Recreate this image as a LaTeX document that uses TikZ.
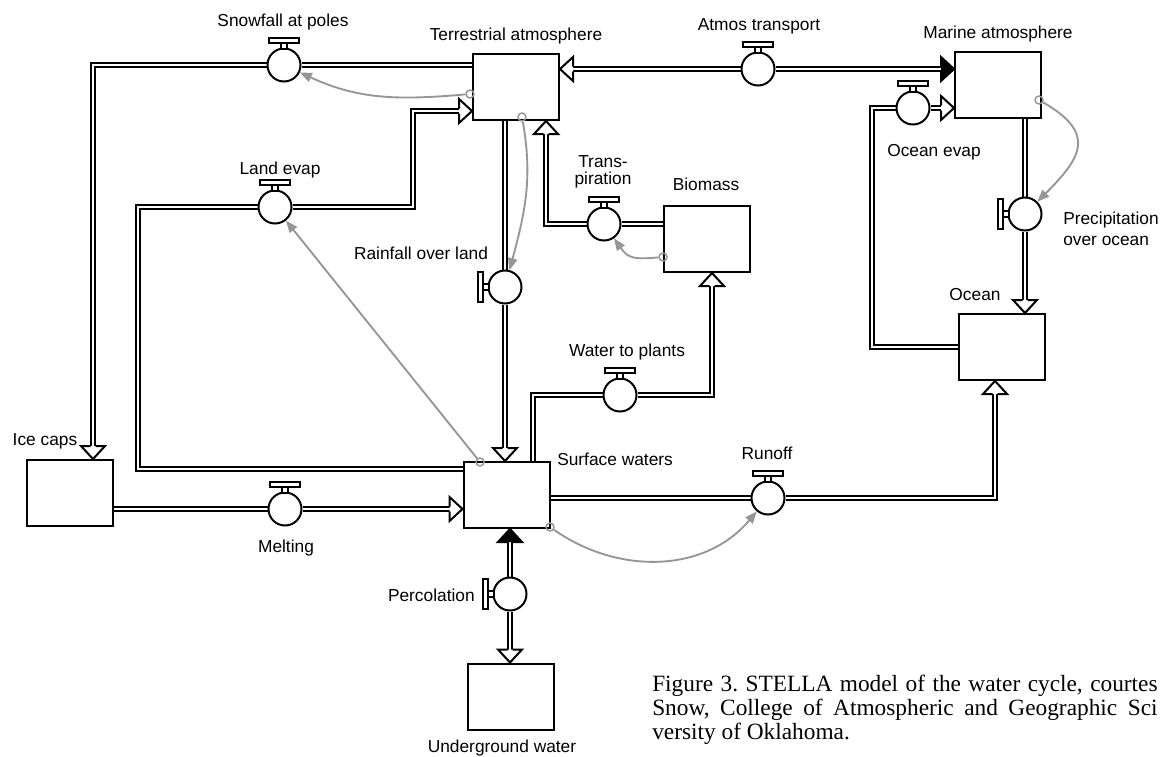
\documentclass[tikz,border=0pt]{standalone}
\usepackage{fontspec}
\setmainfont{Liberation Sans}
\newfontfamily\capfont{Liberation Serif}
\usetikzlibrary{calc,arrows.meta}
\pgfdeclarelayer{bg}
\pgfsetlayers{bg,main}
\definecolor{conn}{RGB}{150,150,150}
\frenchspacing
\tikzset{
  stockbox/.style={draw, line width=1.5pt, fill=white, minimum width=64.5pt, minimum height=49.5pt, inner sep=0pt},
  valvec/.style={draw, circle, line width=1.5pt, fill=white, minimum size=24.75pt, inner sep=0pt},
  pipeline/.style={line width=1.5pt, double=white, double distance=1.5pt, line join=miter},
  lbl/.style={font=\fontsize{13}{15.6}\selectfont, inner sep=0pt, anchor=base},
  caplbl/.style={font=\capfont\fontsize{17.5}{18}\selectfont, inner sep=0pt, anchor=base west},
  srcring/.style={draw=conn, circle, line width=1.1pt, minimum size=6pt, inner sep=0pt},
  infolink/.style={draw=conn, line width=1.4pt, -{Triangle[length=9pt,width=7pt]}},
  hollowhead/.pic={\filldraw[fill=white, line width=1.5pt, line join=miter] (-13,-2.5) -- (-13,-12) -- (0,0) -- (-13,12) -- (-13,2.5);},
  solidhead/.pic={\filldraw[fill=black, line width=1.5pt, line join=miter] (-13,-2.5) -- (-13,-12) -- (0,0) -- (-13,12) -- (-13,2.5);},
  vhandle/.pic={\filldraw[fill=white, line width=1.2pt] (-3,-22) rectangle (3,-16);
                \filldraw[fill=white, line width=1.5pt] (-15,-27.5) rectangle (15,-22);}
}
\begin{document}
\begin{tikzpicture}[x=0.75pt, y=-0.75pt]
\useasboundingbox (0,0) rectangle (1161,757);

% stocks
\node[stockbox] (ta) at (516,87) {};
\node[stockbox] (ma) at (998,85) {};
\node[stockbox] (bio) at (707,239) {};
\node[stockbox] (oc) at (1001.5,347) {};
\node[stockbox] (ice) at (70,493) {};
\node[stockbox] (sw) at (506.5,495) {};
\node[stockbox] (ug) at (510.5,696.5) {};

% valves
\node[valvec] (vsnow) at (284,65) {};
\node[valvec] (vatm) at (758,69) {};
\node[valvec] (voe) at (913,108) {};
\node[valvec] (vpo) at (1025,214) {};
\node[valvec] (vle) at (275,207) {};
\node[valvec] (vtr) at (604,224) {};
\node[valvec] (vrl) at (505,287) {};
\node[valvec] (vwp) at (620,395) {};
\node[valvec] (vro) at (768,498) {};
\node[valvec] (vmelt) at (285,509) {};
\node[valvec] (vperc) at (510,594) {};

\foreach \v in {vsnow,vatm,voe,vle,vtr,vwp,vro,vmelt} \pic at (\v) {vhandle};
\foreach \v in {vpo,vrl,vperc} \pic[rotate=90] at (\v) {vhandle};

% bend points
\coordinate (snA) at (93,65);
\coordinate (oeA) at (872,347);
\coordinate (oeB) at (872,108);
\coordinate (leA) at (138,469);
\coordinate (leB) at (138,207);
\coordinate (leC) at (413,207);
\coordinate (leD) at (413,111);
\coordinate (trA) at (546,224);
\coordinate (wpA) at (533,395);
\coordinate (wpB) at (712,395);
\coordinate (roA) at (995,498);

\begin{pgfonlayer}{bg}
\fill[white] (0,0) rectangle (1161,757);
\draw[pipeline] (ta.west |- vsnow) -- (vsnow) -- (snA) -- ($(ice.north -| snA)+(0,-13)$);
\draw[pipeline] ($(ta.east |- vatm)+(13,0)$) -- (vatm) -- ($(ma.west |- vatm)+(-13,0)$);
\draw[pipeline] (oc.west |- oeA) -- (oeA) -- (oeB) -- (voe) -- ($(ma.west |- oeB)+(-13,0)$);
\draw[pipeline] (ma.south -| vpo) -- (vpo) -- ($(oc.north -| vpo)+(0,-13)$);
\draw[pipeline] (sw.west |- leA) -- (leA) -- (leB) -- (vle) -- (leC) -- (leD) -- ($(ta.west |- leD)+(-13,0)$);
\draw[pipeline] (ta.south -| vrl) -- (vrl) -- ($(sw.north -| vrl)+(0,-13)$);
\draw[pipeline] (bio.west |- vtr) -- (vtr) -- (trA) -- ($(ta.south -| trA)+(0,13)$);
\draw[pipeline] (sw.north -| wpA) -- (wpA) -- (vwp) -- (wpB) -- ($(bio.south -| wpB)+(0,13)$);
\draw[pipeline] (ice.east |- vmelt) -- (vmelt) -- ($(sw.west |- vmelt)+(-13,0)$);
\draw[pipeline] (sw.east |- vro) -- (vro) -- (roA) -- ($(oc.south -| roA)+(0,13)$);
\draw[pipeline] ($(sw.south -| vperc)+(0,13)$) -- (vperc) -- ($(ug.north -| vperc)+(0,-13)$);
\end{pgfonlayer}

% arrowheads
\pic[rotate=-90] at (ice.north -| snA) {hollowhead};
\pic[rotate=180] at (ta.east |- vatm) {hollowhead};
\pic at (ma.west |- vatm) {solidhead};
\pic at (ma.west |- oeB) {hollowhead};
\pic[rotate=-90] at (oc.north -| vpo) {hollowhead};
\pic at (ta.west |- leD) {hollowhead};
\pic[rotate=-90] at (sw.north -| vrl) {hollowhead};
\pic[rotate=90] at (ta.south -| trA) {hollowhead};
\pic[rotate=90] at (bio.south -| wpB) {hollowhead};
\pic at (sw.west |- vmelt) {hollowhead};
\pic[rotate=90] at (oc.south -| roA) {hollowhead};
\pic[rotate=90] at (sw.south -| vperc) {solidhead};
\pic[rotate=-90] at (ug.north -| vperc) {hollowhead};

% connectors
\node[srcring] (r1) at (470,94) {};
\node[srcring] (r2) at (522,117) {};
\node[srcring] (r3) at (663,257) {};
\node[srcring] (r4) at (480,462) {};
\node[srcring] (r5) at (550,527) {};
\node[srcring] (r6) at (1039,100) {};
\draw[infolink] (r1) to[out=185,in=-25] (vsnow);
\draw[infolink] (r2) to[out=-80,in=75] (vrl);
\draw[infolink] (r3) to[out=185,in=-55,looseness=1.3] (vtr);
\draw[infolink] (r4) -- (vle);
\draw[infolink] (r5) to[out=-35,in=-130] (vro);
\draw[infolink] (r6) to[out=-30,in=45,looseness=1.6] (vpo);

% labels
\node[lbl] (lsnow) at (283,26) {Snowfall at poles};
\node[lbl] (lta) at (516,40) {Terrestrial atmosphere};
\node[lbl] (latm) at (759,30) {Atmos transport};
\node[lbl] (lma) at (998,38) {Marine atmosphere};
\node[lbl] (loe) at (934,156) {Ocean evap};
\node[lbl, anchor=base west] (lpo1) at (1063,224) {Precipitation};
\node[lbl, anchor=base west] (lpo2) at (1063,245) {over ocean};
\node[lbl] (lle) at (280,174) {Land evap};
\node[lbl] (ltr1) at (603,167) {Trans-};
\node[lbl] (ltr2) at (603,184) {piration};
\node[lbl] (lbio) at (706,190) {Biomass};
\node[lbl] (lrl) at (421,259) {Rainfall over land};
\node[lbl] (lwp) at (627,356) {Water to plants};
\node[lbl] (lro) at (767,459) {Runoff};
\node[lbl, anchor=base west] (lsw) at (557,465) {Surface waters};
\node[lbl] (loc) at (975,300) {Ocean};
\node[lbl] (lice) at (45,445) {Ice caps};
\node[lbl] (lmelt) at (286,552) {Melting};
\node[lbl, anchor=base east] (lperc) at (475,601) {Percolation};
\node[lbl] (lug) at (502,752) {Underground water};

% caption
\node[caplbl] (cap1) at (652,691) {\makebox[379pt][s]{Figure 3. STELLA model of the water cycle, courtes}};
\node[caplbl] (cap2) at (652,715) {\makebox[379pt][s]{Snow, College of Atmospheric and Geographic Sci}};
\node[caplbl] (cap3) at (652,739) {versity of Oklahoma.};
\end{tikzpicture}
\end{document}
